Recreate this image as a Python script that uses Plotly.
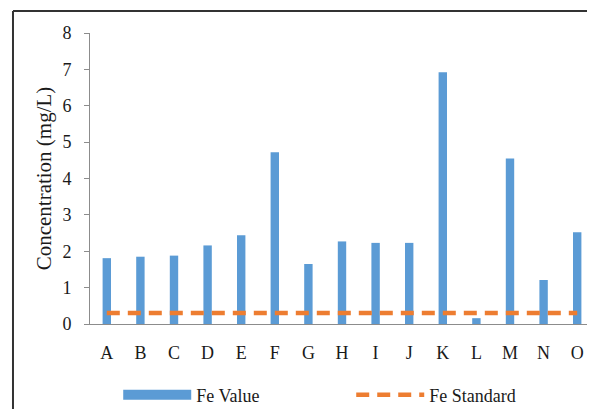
import plotly.graph_objects as go

categories = ["A", "B", "C", "D", "E", "F", "G", "H", "I", "J", "K", "L", "M", "N", "O"]
fe_value = [1.81, 1.85, 1.88, 2.16, 2.44, 4.72, 1.65, 2.27, 2.23, 2.23, 6.92, 0.16, 4.55, 1.21, 2.52]
fe_standard = [0.3] * len(categories)
y_ticks = [0, 1, 2, 3, 4, 5, 6, 7, 8]

BLUE = "#5B9BD5"
ORANGE = "#ED7D31"
FONT = "Liberation Serif"

fig = go.Figure()
fig.add_trace(go.Bar(x=categories, y=fe_value, marker=dict(color=BLUE, line=dict(width=0)),
                     width=0.25, showlegend=False, name="Fe Value"))
fig.add_trace(go.Scatter(x=categories, y=fe_standard, mode="lines", showlegend=False,
                         line=dict(color=ORANGE, width=4.5, dash="13px,8px"), name="Fe Standard"))
# legend entries
fig.add_trace(go.Scatter(x=[None], y=[None], mode="lines", name="Fe Value",
                         line=dict(color=BLUE, width=10)))
fig.add_trace(go.Scatter(x=[None], y=[None], mode="lines", name="Fe Standard",
                         line=dict(color=ORANGE, width=4.5, dash="13px,8px")))

fig.update_layout(
    width=595, height=409,
    margin=dict(l=82, r=9, t=25, b=93, autoexpand=False),
    paper_bgcolor="white", plot_bgcolor="white",
    font=dict(family=FONT, size=18, color="#1a1a1a"),
    bargap=0.75,
    legend=dict(orientation="h", x=0.056, y=-0.244, xanchor="left", yanchor="middle",
                itemwidth=68, entrywidth=150, entrywidthmode="pixels",
                font=dict(family=FONT, size=18, color="#1a1a1a")),
    xaxis=dict(showline=True, linecolor="#8c8c8c", linewidth=1, ticks="outside",
               ticklen=12, tickcolor="rgba(0,0,0,0)", showgrid=False, zeroline=False,
               automargin=False, tickfont=dict(family=FONT, size=18)),
    yaxis=dict(range=[0, 8], tickvals=y_ticks, showline=True, linecolor="#8c8c8c", linewidth=1,
               ticks="outside", ticklen=5, tickcolor="#8c8c8c", showgrid=False, zeroline=False,
               automargin=False, tickfont=dict(family=FONT, size=18), ticklabelstandoff=9,
               title=dict(text="Concentration (mg/L)", font=dict(family=FONT, size=21), standoff=5)),
    shapes=[
        dict(type="line", xref="paper", yref="paper", x0=-0.1528, x1=-0.1528, y0=-0.4, y1=1.0756,
             line=dict(color="#333333", width=2)),
        dict(type="line", xref="paper", yref="paper", x0=-0.1528, x1=1.1, y0=1.0756, y1=1.0756,
             line=dict(color="#333333", width=2)),
    ],
)

fig.write_html("out.html")
